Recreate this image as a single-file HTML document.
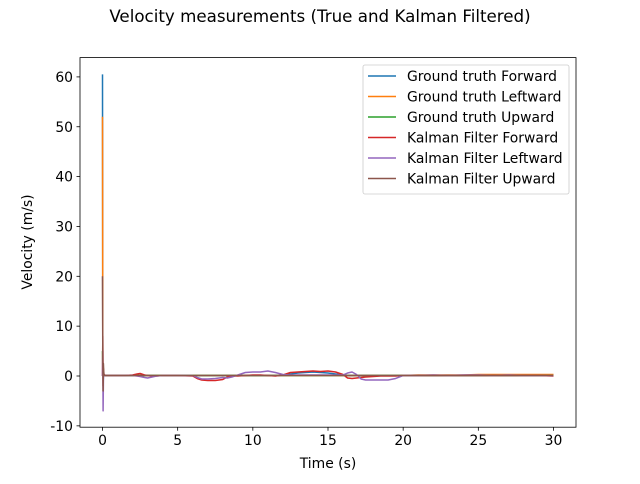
<!DOCTYPE html>
<html><head><meta charset="utf-8"><style>
body{margin:0;background:#fff;font-family:"DejaVu Sans",sans-serif}
svg text{font-family:"DejaVu Sans",sans-serif;fill:#000}
</style></head><body>
<svg id="c" width="640" height="480" xmlns="http://www.w3.org/2000/svg">
<text x="320" y="22" font-size="16.7" text-anchor="middle">Velocity measurements (True and Kalman Filtered)</text>
<g id="plot"></g>
</svg>
<script>
const times=[0,0.02,0.04,0.06,0.08,0.1,0.15,0.2,0.3,0.5,1,1.5,2,2.3,2.5,2.8,3,3.3,3.6,4,5,6,6.3,6.6,7,7.5,8,8.3,8.6,9,9.5,10,10.5,11,11.5,12,12.5,13,13.5,14,14.5,15,15.5,16,16.3,16.6,16.9,17.2,17.5,18,18.5,19,19.5,20,21,22,23,24,25,26,27,28,29,30];
const gtForward=[60.5,0.2,0.1,0.1,0.1,0.1,0.1,0.1,0.1,0.1,0.1,0.1,0.1,0.1,0.1,0.1,0.1,0.1,0.1,0.1,0.1,0.1,0.1,0.1,0.1,0.1,0.1,0.1,0.1,0.1,0.1,0.1,0.1,0.1,0.1,0.2,0.4,0.6,0.7,0.8,0.7,0.6,0.4,0.2,0.1,0.1,0.1,0.1,0.1,0.1,0.1,0.1,0.1,0.1,0.1,0.1,0.1,0.1,0.1,0.1,0.1,0.1,0.1,0.1];
const gtLeftward=[52,0.3,0.2,0.1,0.1,0.1,0.1,0.1,0.1,0.1,0.1,0.1,0.1,0.1,0.1,0.1,0.1,0.1,0.1,0.1,0.1,0.1,0.1,0.1,0.1,0.1,0.1,0.1,0.1,0.1,0.1,0.1,0.1,0.1,0.1,0.1,0.1,0.1,0.1,0.1,0.1,0.1,0.1,0.1,0.1,0.1,0.1,0.1,0.1,0.1,0.1,0.1,0.1,0.1,0.2,0.2,0.2,0.2,0.3,0.3,0.3,0.3,0.3,0.3];
const gtUpward=[5,1,0.5,0.2,0.1,0.1,0.1,0.1,0.1,0.1,0.1,0.1,0.1,0.1,0.1,0.1,0.1,0.1,0.1,0.1,0.1,0.1,0.1,0.1,0.1,0.1,0.1,0.1,0.1,0.1,0.1,0.1,0.1,0.1,0.1,0.1,0.1,0.1,0.1,0.1,0.1,0.1,0.1,0.1,0.1,0.1,0.1,0.1,0.1,0.1,0.1,0.1,0.1,0.1,0.1,0.1,0.1,0.1,0.1,0.1,0.1,0.1,0.1,0.1];
const kfForward=[0,8,-2,1.5,0.5,0.3,0.2,0.1,0.1,0.1,0.1,0.1,0.2,0.4,0.5,0.2,0.1,0,0,0.1,0.1,0,-0.5,-0.8,-0.9,-0.9,-0.7,-0.2,0,0,0.1,0.2,0.2,0.1,0,0.2,0.7,0.8,0.9,1.0,0.9,1.0,0.8,0.3,-0.4,-0.5,-0.4,-0.3,-0.2,-0.1,0,0,0,0.1,0.1,0.1,0.1,0.1,0.1,0.1,0.1,0.1,0.1,0];
const kfLeftward=[0,5,-7,-1,0.5,0.2,0.1,0.1,0.1,0.1,0.1,0.1,0.1,0,-0.1,-0.3,-0.4,-0.2,0,0.1,0.1,0.1,-0.3,-0.6,-0.6,-0.5,-0.3,-0.4,-0.2,0.2,0.7,0.8,0.8,1.0,0.7,0.3,0.2,0.2,0.2,0.2,0.2,0.2,0.2,0.2,0.6,0.8,0.3,-0.6,-0.8,-0.8,-0.8,-0.8,-0.5,0.1,0.1,0.2,0.1,0.2,0.2,0.1,0.2,0.1,0.1,0.1];
const kfUpward=[20,3.5,-3,2.5,1,0.3,0.1,0.1,0.1,0.1,0.1,0.1,0.1,0.1,0.1,0.1,0.1,0.1,0.1,0.1,0.1,0.1,0.1,0.1,0.1,0.1,0.1,0.1,0.1,0.1,0.1,0.1,0.1,0.1,0.1,0.1,0.1,0.1,0.1,0.1,0.1,0.1,0.1,0.1,0.1,0.1,0.1,0.1,0.1,0.1,0.1,0.1,0.1,0.1,0.1,0.1,0.1,0.1,0.1,0.1,0.1,0.1,0.1,0.1];
const xTicks=[0,5,10,15,20,25,30];
const yTicks=[-10,0,10,20,30,40,50,60];
const seriesNames=["Ground truth Forward","Ground truth Leftward","Ground truth Upward","Kalman Filter Forward","Kalman Filter Leftward","Kalman Filter Upward"];
const seriesData=[gtForward,gtLeftward,gtUpward,kfForward,kfLeftward,kfUpward];
const colors=["#1f77b4","#ff7f0e","#2ca02c","#d62728","#9467bd","#8c564b"];

const L=80,R=576,T=57.6,B=427.2;
const xs=v=>102.5+(v/30)*(553.5-102.5);
const ys=v=>376-v*4.985;
const NS="http://www.w3.org/2000/svg";
const g=document.getElementById('plot');
function mk(tag,attrs,parent){const e=document.createElementNS(NS,tag);for(const k in attrs)e.setAttribute(k,attrs[k]);(parent||g).appendChild(e);return e;}

seriesData.forEach((d,i)=>{
  const p=mk('polyline',{points:d.map((v,j)=>xs(times[j]).toFixed(2)+','+ys(v).toFixed(2)).join(' '),fill:'none',stroke:colors[i],'stroke-width':1.5,'stroke-linejoin':'round'});
  
  
});
const frame=mk('rect',{x:L,y:T,width:R-L,height:B-T,fill:'none',stroke:'#000','stroke-width':0.8});


xTicks.forEach(v=>{
  const x=xs(v);
  mk('line',{x1:x,x2:x,y1:B,y2:B+3.5,stroke:'#000','stroke-width':0.8});
  const t=mk('text',{x:x,y:B+18,'font-size':13.9,'text-anchor':'middle'});t.textContent=v;
  
  
});
yTicks.forEach(v=>{
  const y=ys(v);
  mk('line',{x1:L-3.5,x2:L,y1:y,y2:y,stroke:'#000','stroke-width':0.8});
  const t=mk('text',{x:L-7,y:y+5,'font-size':13.9,'text-anchor':'end'});t.textContent=v;
  
  
});
const xt=mk('text',{x:328,y:468,'font-size':13.9,'text-anchor':'middle'});xt.textContent='Time (s)';


const yt=mk('text',{x:32,y:242,'font-size':13.9,'text-anchor':'middle',transform:'rotate(-90 32 242)'});yt.textContent='Velocity (m/s)';


const lg=mk('g',{});


mk('rect',{x:363,y:65,width:206,height:129,rx:2,fill:'#fff','fill-opacity':0.8,stroke:'#ccc','stroke-width':0.8},lg);
seriesNames.forEach((n,i)=>{
  const y=76+i*20.5;
  const ln=mk('line',{x1:368,x2:396,y1:y,y2:y,stroke:colors[i],'stroke-width':1.5},lg);
  
  
  const t=mk('text',{x:407,y:y+5,'font-size':13.9},lg);t.textContent=n;
  
  
});
</script>
</body></html>
